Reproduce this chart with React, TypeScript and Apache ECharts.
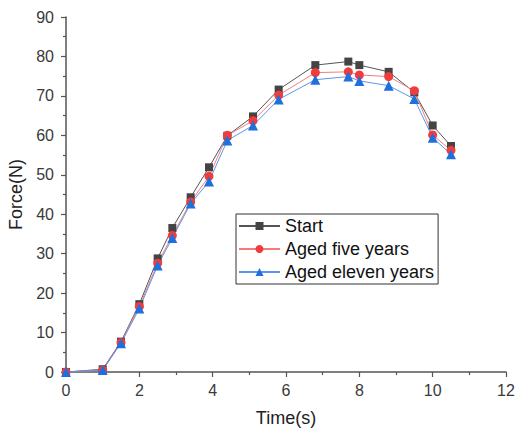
import React, { useEffect, useRef } from "react";
import * as echarts from "echarts";

const timeStart = [0, 1, 1.5, 2, 2.5, 2.9, 3.4, 3.9, 4.4, 5.1, 5.8, 6.8, 7.7, 8.0, 8.8, 9.5, 10.0, 10.5];
const forceStart = [0, 0.7, 7.7, 17.2, 28.8, 36.5, 44.3, 51.9, 59.9, 64.8, 71.6, 77.8, 78.7, 77.8, 76.1, 70.9, 62.5, 57.3];
const forceFive = [0, 0.5, 7.5, 16.6, 27.6, 34.6, 43.1, 49.6, 60.0, 63.7, 70.2, 75.9, 76.1, 75.3, 74.9, 71.3, 60.1, 56.2];
const forceEleven = [0, 0.5, 7.3, 16.1, 27.0, 34.0, 42.7, 48.3, 58.7, 62.5, 69.1, 74.1, 74.9, 73.8, 72.6, 69.2, 59.4, 55.2];
const seriesNames = ["Start", "Aged five years", "Aged eleven years"];

const pair = (xs: number[], ys: number[]) => xs.map((x, i) => [x, ys[i]]);

export default function App() {
  const ref = useRef<HTMLDivElement>(null);
  useEffect(() => {
    if (!ref.current) return;
    const chart = echarts.init(ref.current, undefined, { renderer: "svg" });
    const font = "Arial, 'Liberation Sans', sans-serif";
    const axisColor = "#555";
    chart.setOption({
      animation: false,
      textStyle: { fontFamily: font },
      grid: { left: 66, right: 11, top: 17, bottom: 56, containLabel: false, outerBoundsMode: "none" },
      xAxis: {
        type: "value",
        min: 0,
        max: 12,
        interval: 2,
        name: "Time(s)",
        nameLocation: "middle",
        nameGap: 37,
        nameTextStyle: { fontSize: 18, color: "#222", fontFamily: font },
        axisLine: { show: true, onZero: false, lineStyle: { color: axisColor, width: 1.5 } },
        axisTick: { show: true, inside: false, length: 5, lineStyle: { color: axisColor, width: 1.2 } },
        minorTick: { show: true, splitNumber: 2, length: 3, lineStyle: { color: axisColor, width: 1.2 } },
        axisLabel: { fontSize: 16, color: "#3a3a3a", margin: 10, fontFamily: font },
        splitLine: { show: false },
      },
      yAxis: {
        type: "value",
        min: 0,
        max: 90,
        interval: 10,
        name: "Force(N)",
        nameLocation: "middle",
        nameGap: 34,
        nameRotate: 90,
        nameTextStyle: { fontSize: 18, color: "#222", fontFamily: font },
        axisLine: { show: true, lineStyle: { color: axisColor, width: 1.5 } },
        axisTick: { show: true, inside: false, length: 5, lineStyle: { color: axisColor, width: 1.2 } },
        minorTick: { show: true, splitNumber: 2, length: 3, lineStyle: { color: axisColor, width: 1.2 } },
        axisLabel: { fontSize: 16, color: "#3a3a3a", margin: 12, fontFamily: font },
        splitLine: { show: false },
      },
      legend: {
        orient: "vertical",
        left: 236,
        top: 214,
        padding: [3, 4, 3, 2],
        itemGap: 5,
        itemWidth: 41,
        itemHeight: 10,
        backgroundColor: "#fff",
        borderColor: "#333",
        borderWidth: 1,
        borderRadius: 0,
        textStyle: { fontSize: 18, color: "#111", fontFamily: font, lineHeight: 18, padding: [0, 0, 0, 0] },
        data: seriesNames,
      },
      series: [
        {
          name: seriesNames[0],
          type: "line",
          data: pair(timeStart, forceStart),
          symbol: "rect",
          symbolSize: 8,
          itemStyle: { color: "#444" },
          lineStyle: { color: "#555", width: 1 },
        },
        {
          name: seriesNames[1],
          type: "line",
          data: pair(timeStart, forceFive),
          symbol: "circle",
          symbolSize: 9,
          itemStyle: { color: "#f03c3c" },
          lineStyle: { color: "#f37c7c", width: 1 },
        },
        {
          name: seriesNames[2],
          type: "line",
          data: pair(timeStart, forceEleven),
          symbol: "triangle",
          symbolSize: 10,
          itemStyle: { color: "#1f6fdd" },
          lineStyle: { color: "#5b96ea", width: 1 },
        },
      ],
    });
    return () => chart.dispose();
  }, []);
  return <div ref={ref} style={{ width: 517, height: 428, position: "absolute", left: 0, top: 0 }} />;
}
